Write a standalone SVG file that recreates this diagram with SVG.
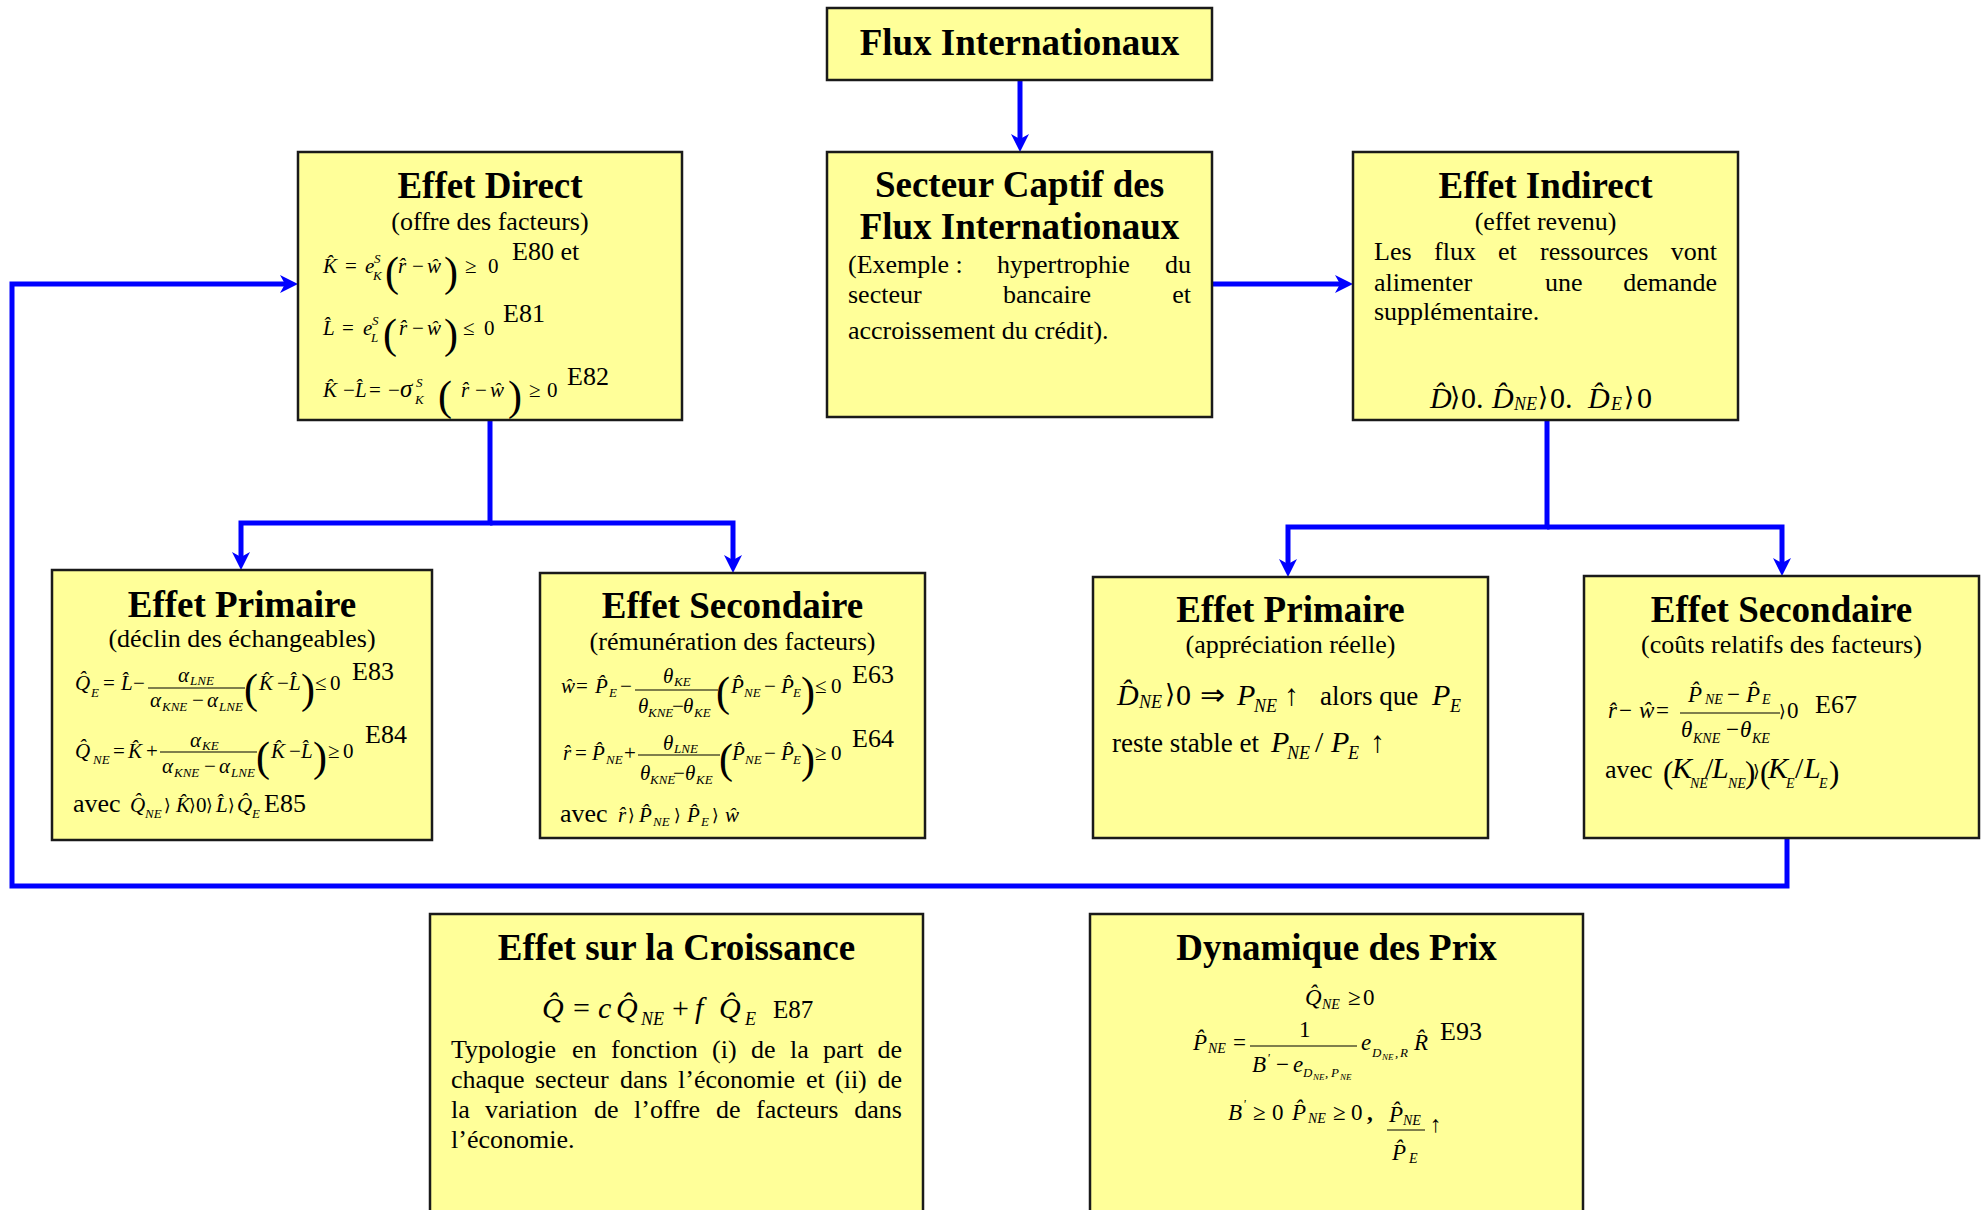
<svg xmlns="http://www.w3.org/2000/svg" width="1982" height="1210" viewBox="0 0 1982 1210">
<style>
text{font-family:"Liberation Serif","Times New Roman",serif;fill:#000}
.box{fill:#FFFF99;stroke:#1a1a1a;stroke-width:2.5}
.ttl{font-size:37px;font-weight:bold;text-anchor:middle}
.st{font-size:26px;text-anchor:middle}
.b{font-size:26px}
.r{text-anchor:end}
.lab{font-size:26px}
.mi{font-size:21px;font-style:italic}
.mo{font-size:21px}
.ms{font-size:13px;font-style:italic}
.mi2{font-size:23px;font-style:italic}
.mo2{font-size:23px}
.ms2{font-size:14px;font-style:italic}
.ms0{font-size:9px;font-style:italic}
.mi3{font-size:30px;font-style:italic}
.mo3{font-size:30px}
.ms3{font-size:18px;font-style:italic}
.p{font-size:42px}
.p2{font-size:31px}
.a{font-family:"DejaVu Serif","DejaVu Sans",serif;font-size:17px}
.a3{font-family:"DejaVu Serif","DejaVu Sans",serif;font-size:26px}
.fb{stroke:#000;stroke-width:1.2}
.c{fill:none;stroke:#0000FF;stroke-width:5;stroke-linejoin:miter}
</style>
<defs>
<marker id="ah" markerUnits="userSpaceOnUse" markerWidth="18" markerHeight="18" viewBox="0 0 18 18" refX="6" refY="9" orient="auto">
<path d="M0,0 L18,9 L0,18 L5,9 Z" fill="#0000FF"/>
</marker>
</defs>

<g id="connectors" class="c">
<path d="M1020,80 V140" marker-end="url(#ah)"/>
<path d="M1212,284 H1341" marker-end="url(#ah)"/>
<path d="M490,421 V523 H241 V558" marker-end="url(#ah)"/>
<path d="M490,523 H733 V561" marker-end="url(#ah)"/>
<path d="M1547,421 V527 H1288 V565" marker-end="url(#ah)"/>
<path d="M1547,527 H1782 V564" marker-end="url(#ah)"/>
<path d="M1787,838 V886 H12 V284 H286" marker-end="url(#ah)"/>
</g>

<g id="flux">
<rect class="box" x="827" y="8" width="385" height="72"/>
<text class="ttl" x="1019.5" y="55">Flux Internationaux</text>
</g>

<g id="secteur-captif">
<rect class="box" x="827" y="152" width="385" height="265"/>
<text class="ttl" x="1019.5" y="197">Secteur Captif des</text>
<text class="ttl" x="1019.5" y="239">Flux Internationaux</text>
<text class="b"><tspan x="848" y="273">(Exemple :</tspan><tspan x="997" y="273">hypertrophie</tspan><tspan class="r" x="1191" y="273">du</tspan></text>
<text class="b"><tspan x="848" y="303">secteur</tspan><tspan x="1003" y="303">bancaire</tspan><tspan class="r" x="1191" y="303">et</tspan></text>
<text class="b" x="848" y="339">accroissement du crédit).</text>
</g>

<g id="effet-direct">
<rect class="box" x="298" y="152" width="384" height="268"/>
<text class="ttl" x="490" y="198">Effet Direct</text>
<text class="st" x="490" y="230">(offre des facteurs)</text>
<text><tspan class="mi" x="323" y="273">K&#x302;</tspan><tspan class="mo" x="345" y="273">=</tspan><tspan class="mi" x="365" y="273">e</tspan><tspan class="ms" x="374" y="263">S</tspan><tspan class="ms" x="373" y="280">K</tspan><tspan class="p" x="385" y="286">(</tspan><tspan class="mi" x="398" y="273">r&#x302;</tspan><tspan class="mo" x="412" y="273">−</tspan><tspan class="mi" x="427" y="273">w&#x302;</tspan><tspan class="p" x="444" y="286">)</tspan><tspan class="mo" x="465" y="273">≥</tspan><tspan class="mo" x="488" y="273">0</tspan><tspan class="lab" x="512" y="260">E80 et</tspan></text>
<text><tspan class="mi" x="323" y="335">L&#x302;</tspan><tspan class="mo" x="342" y="335">=</tspan><tspan class="mi" x="363" y="335">e</tspan><tspan class="ms" x="372" y="325">S</tspan><tspan class="ms" x="371" y="342">L</tspan><tspan class="p" x="383" y="348">(</tspan><tspan class="mi" x="399" y="335">r&#x302;</tspan><tspan class="mo" x="412" y="335">−</tspan><tspan class="mi" x="427" y="335">w&#x302;</tspan><tspan class="p" x="444" y="348">)</tspan><tspan class="mo" x="463" y="335">≤</tspan><tspan class="mo" x="484" y="335">0</tspan><tspan class="lab" x="503" y="322">E81</tspan></text>
<text><tspan class="mi" x="323" y="397">K&#x302;</tspan><tspan class="mo" x="343" y="397">−</tspan><tspan class="mi" x="355" y="397">L&#x302;</tspan><tspan class="mo" x="369" y="397">=</tspan><tspan class="mo" x="388" y="397">−</tspan><tspan class="mi" x="400" y="397" style="font-size:25px">σ</tspan><tspan class="ms" x="416" y="387">S</tspan><tspan class="ms" x="415" y="404">K</tspan><tspan class="p" x="438" y="410">(</tspan><tspan class="mi" x="461" y="397">r&#x302;</tspan><tspan class="mo" x="475" y="397">−</tspan><tspan class="mi" x="490" y="397">w&#x302;</tspan><tspan class="p" x="508" y="410">)</tspan><tspan class="mo" x="529" y="397">≥</tspan><tspan class="mo" x="547" y="397">0</tspan><tspan class="lab" x="567" y="385">E82</tspan></text>
</g>

<g id="effet-indirect">
<rect class="box" x="1353" y="152" width="385" height="268"/>
<text class="ttl" x="1545.5" y="198">Effet Indirect</text>
<text class="st" x="1545.5" y="230">(effet revenu)</text>
<text class="b"><tspan x="1374" y="260">Les</tspan><tspan x="1434" y="260">flux</tspan><tspan x="1498" y="260">et</tspan><tspan x="1540" y="260">ressources</tspan><tspan class="r" x="1717" y="260">vont</tspan></text>
<text class="b"><tspan x="1374" y="291">alimenter</tspan><tspan x="1545" y="291">une</tspan><tspan class="r" x="1717" y="291">demande</tspan></text>
<text class="b" x="1374" y="320">supplémentaire.</text>
<text><tspan class="mi3" x="1430" y="408">D&#x302;</tspan><tspan class="a3" x="1450" y="406">⟩</tspan><tspan class="mo3" x="1461" y="408">0.</tspan><tspan class="mi3" x="1492" y="408">D&#x302;</tspan><tspan class="ms3" x="1514" y="410">NE</tspan><tspan class="a3" x="1538" y="406">⟩</tspan><tspan class="mo3" x="1550" y="408">0.</tspan><tspan class="mi3" x="1588" y="408">D&#x302;</tspan><tspan class="ms3" x="1611" y="410">E</tspan><tspan class="a3" x="1624" y="406">⟩</tspan><tspan class="mo3" x="1637" y="408">0</tspan></text>
</g>

<g id="effet-primaire-offre">
<rect class="box" x="52" y="570" width="380" height="270"/>
<text class="ttl" x="242" y="617">Effet Primaire</text>
<text class="st" x="242" y="647">(déclin des échangeables)</text>
<text><tspan class="mi" x="75" y="690">Q&#x302;</tspan><tspan class="ms" x="91" y="697">E</tspan><tspan class="mo" x="103" y="690">=</tspan><tspan class="mi" x="121" y="690">L&#x302;</tspan><tspan class="mo" x="133" y="690">−</tspan><tspan class="mi" x="178" y="682">α</tspan><tspan class="ms" x="190" y="685">LNE</tspan><tspan class="mi" x="150" y="707">α</tspan><tspan class="ms" x="162" y="711">KNE</tspan><tspan class="mo" x="192" y="707">−</tspan><tspan class="mi" x="207" y="707">α</tspan><tspan class="ms" x="219" y="711">LNE</tspan><tspan class="p" x="244" y="703">(</tspan><tspan class="mi" x="259" y="690">K&#x302;</tspan><tspan class="mo" x="277" y="690">−</tspan><tspan class="mi" x="289" y="690">L&#x302;</tspan><tspan class="p" x="301" y="703">)</tspan><tspan class="mo" x="315" y="690">≤</tspan><tspan class="mo" x="330" y="690">0</tspan><tspan class="lab" x="352" y="680">E83</tspan></text>
<line class="fb" x1="148" y1="688" x2="245" y2="688"/>
<text><tspan class="mi" x="75" y="758">Q&#x302;</tspan><tspan class="ms" x="93" y="764">NE</tspan><tspan class="mo" x="113" y="758">=</tspan><tspan class="mi" x="128" y="758">K&#x302;</tspan><tspan class="mo" x="146" y="758">+</tspan><tspan class="mi" x="190" y="747">α</tspan><tspan class="ms" x="202" y="750">KE</tspan><tspan class="mi" x="162" y="773">α</tspan><tspan class="ms" x="174" y="777">KNE</tspan><tspan class="mo" x="204" y="773">−</tspan><tspan class="mi" x="219" y="773">α</tspan><tspan class="ms" x="231" y="777">LNE</tspan><tspan class="p" x="256" y="771">(</tspan><tspan class="mi" x="271" y="758">K&#x302;</tspan><tspan class="mo" x="289" y="758">−</tspan><tspan class="mi" x="301" y="758">L&#x302;</tspan><tspan class="p" x="313" y="771">)</tspan><tspan class="mo" x="328" y="758">≥</tspan><tspan class="mo" x="343" y="758">0</tspan><tspan class="lab" x="365" y="743">E84</tspan></text>
<line class="fb" x1="160" y1="752" x2="257" y2="752"/>
<text><tspan class="b" x="73" y="812">avec</tspan><tspan class="mi" x="130" y="812">Q&#x302;</tspan><tspan class="ms" x="145" y="818">NE</tspan><tspan class="a" x="164" y="811">⟩</tspan><tspan class="mi" x="176" y="812">K&#x302;</tspan><tspan class="a" x="189" y="811">⟩</tspan><tspan class="mo" x="196" y="812">0</tspan><tspan class="a" x="206" y="811">⟩</tspan><tspan class="mi" x="216" y="812">L&#x302;</tspan><tspan class="a" x="228" y="811">⟩</tspan><tspan class="mi" x="237" y="812">Q&#x302;</tspan><tspan class="ms" x="252" y="818">E</tspan><tspan class="lab" x="264" y="812">E85</tspan></text>
</g>

<g id="effet-secondaire-offre">
<rect class="box" x="540" y="573" width="385" height="265"/>
<text class="ttl" x="732.5" y="618">Effet Secondaire</text>
<text class="st" x="732.5" y="650">(rémunération des facteurs)</text>
<text><tspan class="mi" x="561" y="693">w&#x302;</tspan><tspan class="mo" x="576" y="693">=</tspan><tspan class="mi" x="595" y="693">P&#x302;</tspan><tspan class="ms" x="609" y="697">E</tspan><tspan class="mo" x="620" y="693">−</tspan><tspan class="mi" x="663" y="683">θ</tspan><tspan class="ms" x="674" y="686">KE</tspan><tspan class="mi" x="638" y="713">θ</tspan><tspan class="ms" x="648" y="717">KNE</tspan><tspan class="mo" x="672" y="713">−</tspan><tspan class="mi" x="683" y="713">θ</tspan><tspan class="ms" x="694" y="717">KE</tspan><tspan class="p" x="716" y="706">(</tspan><tspan class="mi" x="731" y="693">P&#x302;</tspan><tspan class="ms" x="744" y="697">NE</tspan><tspan class="mo" x="764" y="693">−</tspan><tspan class="mi" x="781" y="693">P&#x302;</tspan><tspan class="ms" x="793" y="697">E</tspan><tspan class="p" x="801" y="706">)</tspan><tspan class="mo" x="815" y="693">≤</tspan><tspan class="mo" x="831" y="693">0</tspan><tspan class="lab" x="852" y="683">E63</tspan></text>
<line class="fb" x1="635" y1="690" x2="718" y2="690"/>
<text><tspan class="mi" x="563" y="760">r&#x302;</tspan><tspan class="mo" x="575" y="760">=</tspan><tspan class="mi" x="592" y="760">P&#x302;</tspan><tspan class="ms" x="606" y="764">NE</tspan><tspan class="mo" x="624" y="760">+</tspan><tspan class="mi" x="663" y="750">θ</tspan><tspan class="ms" x="674" y="753">LNE</tspan><tspan class="mi" x="640" y="780">θ</tspan><tspan class="ms" x="650" y="784">KNE</tspan><tspan class="mo" x="673" y="780">−</tspan><tspan class="mi" x="685" y="780">θ</tspan><tspan class="ms" x="696" y="784">KE</tspan><tspan class="p" x="719" y="773">(</tspan><tspan class="mi" x="732" y="760">P&#x302;</tspan><tspan class="ms" x="745" y="764">NE</tspan><tspan class="mo" x="764" y="760">−</tspan><tspan class="mi" x="781" y="760">P&#x302;</tspan><tspan class="ms" x="793" y="764">E</tspan><tspan class="p" x="801" y="773">)</tspan><tspan class="mo" x="815" y="760">≥</tspan><tspan class="mo" x="831" y="760">0</tspan><tspan class="lab" x="852" y="747">E64</tspan></text>
<line class="fb" x1="638" y1="755" x2="720" y2="755"/>
<text><tspan class="b" x="560" y="822">avec</tspan><tspan class="mi" x="618" y="822">r&#x302;</tspan><tspan class="a" x="628" y="821">⟩</tspan><tspan class="mi" x="639" y="822">P&#x302;</tspan><tspan class="ms" x="653" y="826">NE</tspan><tspan class="a" x="674" y="821">⟩</tspan><tspan class="mi" x="687" y="822">P&#x302;</tspan><tspan class="ms" x="701" y="826">E</tspan><tspan class="a" x="712" y="821">⟩</tspan><tspan class="mi" x="725" y="822">w&#x302;</tspan></text>
</g>

<g id="effet-primaire-revenu">
<rect class="box" x="1093" y="577" width="395" height="261"/>
<text class="ttl" x="1290.5" y="622">Effet Primaire</text>
<text class="st" x="1290.5" y="653">(appréciation réelle)</text>
<text><tspan class="mi3" x="1117" y="705">D&#x302;</tspan><tspan class="ms3" x="1139" y="708">NE</tspan><tspan class="a3" x="1165" y="703">⟩</tspan><tspan class="mo3" x="1176" y="705">0</tspan><tspan class="mo3" x="1200" y="705">⇒</tspan><tspan class="mi3" x="1237" y="705">P</tspan><tspan class="ms3" x="1254" y="712">NE</tspan><tspan class="mo3" x="1284" y="705">↑</tspan><tspan class="b" x="1320" y="705" style="font-size:27px">alors que</tspan><tspan class="mi3" x="1432" y="705">P</tspan><tspan class="ms3" x="1450" y="712">E</tspan></text>
<text><tspan class="b" x="1112" y="752" style="font-size:27px">reste stable et</tspan><tspan class="mi3" x="1271" y="752">P</tspan><tspan class="ms3" x="1287" y="759">NE</tspan><tspan class="mo3" x="1315" y="752">/</tspan><tspan class="mi3" x="1331" y="752">P</tspan><tspan class="ms3" x="1348" y="759">E</tspan><tspan class="mo3" x="1370" y="752">↑</tspan></text>
</g>

<g id="effet-secondaire-revenu">
<rect class="box" x="1584" y="576" width="395" height="262"/>
<text class="ttl" x="1781.5" y="622">Effet Secondaire</text>
<text class="st" x="1781.5" y="653">(coûts relatifs des facteurs)</text>
<text><tspan class="mi2" x="1608" y="718">r&#x302;</tspan><tspan class="mo2" x="1619" y="718">−</tspan><tspan class="mi2" x="1639" y="718">w&#x302;</tspan><tspan class="mo2" x="1656" y="718">=</tspan><tspan class="mi2" x="1688" y="702">P&#x302;</tspan><tspan class="ms2" x="1705" y="704">NE</tspan><tspan class="mo2" x="1727" y="702">−</tspan><tspan class="mi2" x="1746" y="702">P&#x302;</tspan><tspan class="ms2" x="1762" y="704">E</tspan><tspan class="mi2" x="1681" y="737">θ</tspan><tspan class="ms2" x="1693" y="743">KNE</tspan><tspan class="mo2" x="1726" y="737">−</tspan><tspan class="mi2" x="1740" y="737">θ</tspan><tspan class="ms2" x="1752" y="743">KE</tspan><tspan class="a" x="1779" y="717">⟩</tspan><tspan class="mo2" x="1787" y="718">0</tspan><tspan class="lab" x="1815" y="713">E67</tspan></text>
<line class="fb" x1="1680" y1="713" x2="1780" y2="713"/>
<text><tspan class="b" x="1605" y="778">avec</tspan><tspan class="p2" x="1663" y="783">(</tspan><tspan class="mi3" x="1672" y="778">K</tspan><tspan class="ms2" x="1690" y="788">NE</tspan><tspan class="mo3" x="1705" y="778">/</tspan><tspan class="mi3" x="1712" y="778">L</tspan><tspan class="ms2" x="1728" y="788">NE</tspan><tspan class="p2" x="1745" y="783">)</tspan><tspan class="a" x="1753" y="777">⟩</tspan><tspan class="p2" x="1760" y="783">(</tspan><tspan class="mi3" x="1768" y="778">K</tspan><tspan class="ms2" x="1786" y="788">E</tspan><tspan class="mo3" x="1795" y="778">/</tspan><tspan class="mi3" x="1804" y="778">L</tspan><tspan class="ms2" x="1819" y="788">E</tspan><tspan class="p2" x="1829" y="783">)</tspan></text>
</g>

<g id="effet-croissance">
<rect class="box" x="430" y="914" width="493" height="310"/>
<text class="ttl" x="676.5" y="960">Effet sur la Croissance</text>
<text><tspan class="mi3" x="542" y="1018">Q&#x302;</tspan><tspan class="mo3" x="573" y="1018">=</tspan><tspan class="mi3" x="598" y="1018">c</tspan><tspan class="mi3" x="616" y="1018">Q&#x302;</tspan><tspan class="ms3" x="641" y="1025">NE</tspan><tspan class="mo3" x="672" y="1018">+</tspan><tspan class="mi3" x="695" y="1018">f</tspan><tspan class="mi3" x="719" y="1018">Q&#x302;</tspan><tspan class="ms3" x="745" y="1025">E</tspan><tspan class="lab" x="773" y="1018" style="font-size:25px">E87</tspan></text>
<text class="b"><tspan x="451" y="1058">Typologie</tspan><tspan x="572" y="1058">en</tspan><tspan x="611" y="1058">fonction</tspan><tspan x="712" y="1058">(i)</tspan><tspan x="751" y="1058">de</tspan><tspan x="790" y="1058">la</tspan><tspan x="823" y="1058">part</tspan><tspan class="r" x="902" y="1058">de</tspan></text>
<text class="b"><tspan x="451" y="1088">chaque</tspan><tspan x="535" y="1088">secteur</tspan><tspan x="620" y="1088">dans</tspan><tspan x="678" y="1088">l’économie</tspan><tspan x="806" y="1088">et</tspan><tspan x="835" y="1088">(ii)</tspan><tspan class="r" x="902" y="1088">de</tspan></text>
<text class="b"><tspan x="451" y="1118">la</tspan><tspan x="485" y="1118">variation</tspan><tspan x="594" y="1118">de</tspan><tspan x="634" y="1118">l’offre</tspan><tspan x="716" y="1118">de</tspan><tspan x="756" y="1118">facteurs</tspan><tspan class="r" x="902" y="1118">dans</tspan></text>
<text class="b" x="451" y="1148">l’économie.</text>
</g>

<g id="dynamique-prix">
<rect class="box" x="1090" y="914" width="493" height="310"/>
<text class="ttl" x="1336.5" y="960">Dynamique des Prix</text>
<text><tspan class="mi2" x="1305" y="1005">Q&#x302;</tspan><tspan class="ms2" x="1322" y="1009">NE</tspan><tspan class="mo2" x="1348" y="1005">≥</tspan><tspan class="mo2" x="1363" y="1005">0</tspan></text>
<text><tspan class="mi2" x="1193" y="1050">P&#x302;</tspan><tspan class="ms2" x="1208" y="1053">NE</tspan><tspan class="mo2" x="1233" y="1050">=</tspan><tspan class="mo2" x="1299" y="1037">1</tspan><tspan class="mi2" x="1252" y="1072">B</tspan><tspan class="ms" x="1267" y="1062">'</tspan><tspan class="mo2" x="1276" y="1072">−</tspan><tspan class="mi2" x="1293" y="1072">e</tspan><tspan class="ms" x="1303" y="1077">D</tspan><tspan class="ms0" x="1313" y="1080">NE</tspan><tspan class="ms" x="1325" y="1077">,</tspan><tspan class="ms" x="1331" y="1077">P</tspan><tspan class="ms0" x="1340" y="1080">NE</tspan><tspan class="mi2" x="1361" y="1050">e</tspan><tspan class="ms" x="1372" y="1057">D</tspan><tspan class="ms0" x="1382" y="1060">NE</tspan><tspan class="ms" x="1395" y="1057">,</tspan><tspan class="ms" x="1400" y="1057">R</tspan><tspan class="mi2" x="1414" y="1050">R&#x302;</tspan><tspan class="lab" x="1440" y="1040">E93</tspan></text>
<line class="fb" x1="1250" y1="1046" x2="1357" y2="1046"/>
<text><tspan class="mi2" x="1228" y="1120">B</tspan><tspan class="ms" x="1243" y="1108">'</tspan><tspan class="mo2" x="1253" y="1120">≥</tspan><tspan class="mo2" x="1272" y="1120">0</tspan><tspan class="mi2" x="1292" y="1120">P&#x302;</tspan><tspan class="ms2" x="1308" y="1123">NE</tspan><tspan class="mo2" x="1333" y="1120">≥</tspan><tspan class="mo2" x="1351" y="1120">0</tspan><tspan class="mo2" x="1367" y="1120" style="font-weight:bold">,</tspan><tspan class="mi2" x="1389" y="1122">P&#x302;</tspan><tspan class="ms2" x="1403" y="1125">NE</tspan><tspan class="mi2" x="1392" y="1160">P&#x302;</tspan><tspan class="ms2" x="1409" y="1163">E</tspan><tspan class="mo2" x="1430" y="1132">↑</tspan></text>
<line class="fb" x1="1387" y1="1130" x2="1425" y2="1130"/>
</g>
</svg>
